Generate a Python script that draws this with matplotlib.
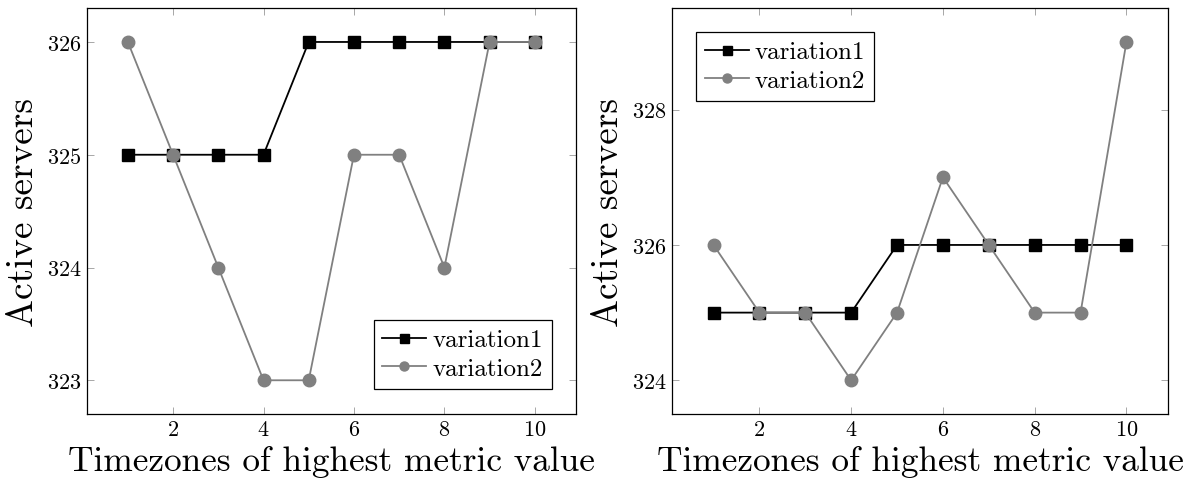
import numpy as np
import matplotlib
matplotlib.use("Agg")
import matplotlib.pyplot as plt

plt.rcParams['font.family'] = ['cmr10', 'DejaVu Serif']
plt.rcParams['axes.formatter.use_mathtext'] = True

# timezone index and active server counts for each run
timezones = [1, 2, 3, 4, 5, 6, 7, 8, 9, 10]
left_variation1 = [325, 325, 325, 325, 326, 326, 326, 326, 326, 326]
left_variation2 = [326, 325, 324, 323, 323, 325, 325, 324, 326, 326]
right_variation1 = [325, 325, 325, 325, 326, 326, 326, 326, 326, 326]
right_variation2 = [326, 325, 325, 324, 325, 327, 326, 325, 325, 329]

x_ticks = [2, 4, 6, 8, 10]
left_y_ticks = [323, 324, 325, 326]
right_y_ticks = [324, 326, 328]

fig = plt.figure(figsize=(11.94, 4.81), dpi=100)
ax1 = fig.add_axes([0.073, 0.137, 0.409, 0.844])
ax2 = fig.add_axes([0.563, 0.137, 0.415, 0.844])


def draw_panel(ax, v1, v2, yticks, legend_loc, legend_anchor):
    ax.plot(timezones, v1, color='black', marker='s', markersize=9,
            linewidth=1.3, label='variation1', zorder=3)
    ax.plot(timezones, v2, color='#808080', marker='o', markersize=9,
            linewidth=1.3, label='variation2', zorder=4)

    # pgfplots-like limits: 10% padding on each side
    lo, hi = min(v1 + v2), max(v1 + v2)
    pad = 0.1 * (hi - lo)
    ax.set_ylim(lo - pad, hi + pad)
    ax.set_xlim(0.1, 10.9)

    ax.set_xticks(x_ticks)
    ax.set_yticks(yticks)
    ax.tick_params(direction='in', length=5, width=0.6, color='#999999',
                   top=True, right=True, labelsize=16, pad=4)
    for s in ax.spines.values():
        s.set_linewidth(0.9)

    ax.set_xlabel('Timezones of highest metric value', fontsize=25.4, labelpad=4)
    ax.set_ylabel('Active servers', fontsize=26.8, labelpad=5)

    leg = ax.legend(loc=legend_loc, bbox_to_anchor=legend_anchor, fontsize=18,
                    fancybox=False, framealpha=1, edgecolor='black',
                    handlelength=1.75, handletextpad=0.25, borderpad=0.35,
                    labelspacing=0.25, markerscale=0.72, borderaxespad=0)
    leg.get_frame().set_linewidth(0.9)


draw_panel(ax1, left_variation1, left_variation2, left_y_ticks,
           'lower right', (0.951, 0.062))
draw_panel(ax2, right_variation1, right_variation2, right_y_ticks,
           'upper left', (0.0485, 0.941))

fig.savefig('out.png', dpi=100)
